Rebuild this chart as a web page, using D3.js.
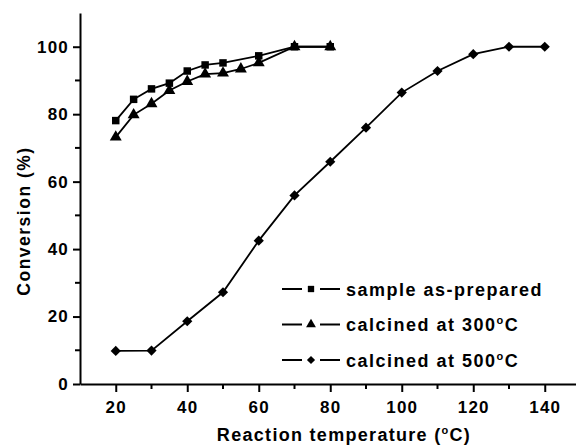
<!DOCTYPE html>
<html>
<head>
  <meta charset="utf-8">
  <title>Conversion vs temperature</title>
  <script src="https://cdn.jsdelivr.net/npm/d3@7"></script>
  <style>
    body { margin: 0; background: #fff; }
    text { font-family: "Liberation Sans", Arial, sans-serif; font-weight: bold; fill: #000; }
  </style>
</head>
<body>
  <svg width="576" height="445" id="mainsvg"></svg>
  <script>
    // data
    const tempA = [20, 25, 30, 35, 40, 45, 50, 60, 70, 80];
    const convA = [78.1, 84.4, 87.5, 89.2, 92.8, 94.6, 95.2, 97.3, 100, 100];
    const tempB = [20, 25, 30, 35, 40, 45, 50, 55, 60, 70, 80];
    const convB = [73.2, 79.8, 83.1, 87.0, 89.7, 91.9, 92.2, 93.4, 95.2, 100, 100];
    const tempC = [20, 30, 40, 50, 60, 70, 80, 90, 100, 110, 120, 130, 140];
    const convC = [9.8, 9.9, 18.6, 27.2, 42.5, 55.9, 65.9, 76.0, 86.4, 92.8, 97.8, 100, 100];
    const seriesNames = ['sample as-prepared', 'calcined at 300', 'calcined at 500'];
    const xTicks = [20, 40, 60, 80, 100, 120, 140];
    const yTicks = [0, 20, 40, 60, 80, 100];

    const svg = d3.select('#mainsvg');
    const x = d3.scaleLinear().domain([10, 150]).range([80, 580.5]);
    const y = d3.scaleLinear().domain([0, 110]).range([384, 13]);

    // axes: major ticks labelled, minor ticks between
    const xAxis = svg.append('g').attr('transform', 'translate(0,384)')
      .call(d3.axisBottom(x).tickValues(xTicks).tickSize(8).tickSizeOuter(0).tickPadding(9));
    xAxis.append('g').selectAll('line').data(d3.range(30, 150, 20)).join('line')
      .attr('x1', d => x(d)).attr('x2', d => x(d)).attr('y1', 0).attr('y2', 5);
    const yAxis = svg.append('g').attr('transform', 'translate(80,0)')
      .call(d3.axisLeft(y).tickValues(yTicks).tickSize(7).tickSizeOuter(0).tickPadding(4));
    yAxis.append('g').selectAll('line').data(d3.range(10, 110, 20)).join('line')
      .attr('x1', 0).attr('x2', -5).attr('y1', d => y(d)).attr('y2', d => y(d));
    svg.selectAll('.domain, .tick line, g line').attr('stroke', '#000').attr('stroke-width', 2);
    svg.selectAll('.tick text').attr('font-size', 17).attr('letter-spacing', 1.2)
      .attr('font-family', '"Liberation Sans", Arial, sans-serif').attr('font-weight', 'bold');

    // marker shapes
    const sym = {
      square: d3.symbol().type(d3.symbolSquare).size(56),
      triangle: d3.symbol().type(d3.symbolTriangle).size(62),
      diamond: d3.symbol().type(d3.symbolSquare).size(52)
    };
    const series = [
      { t: tempA, c: convA, shape: 'square' },
      { t: tempB, c: convB, shape: 'triangle' },
      { t: tempC, c: convC, shape: 'diamond' }
    ];
    const line = d3.line().x(d => x(d[0])).y(d => y(d[1]));

    series.forEach(s => {
      const pts = s.t.map((t, i) => [t, s.c[i]]);
      svg.append('path').datum(pts).attr('d', line)
        .attr('fill', 'none').attr('stroke', '#000').attr('stroke-width', 1.8);
      svg.append('g').selectAll('path').data(pts).join('path')
        .attr('d', sym[s.shape])
        .attr('transform', d => `translate(${x(d[0])},${y(d[1])})` + (s.shape === 'diamond' ? ' rotate(45)' : ''))
        .attr('fill', '#000');
    });

    // legend
    const legSym = {
      square: d3.symbol().type(d3.symbolSquare).size(40),
      triangle: d3.symbol().type(d3.symbolTriangle).size(42),
      diamond: d3.symbol().type(d3.symbolSquare).size(34)
    };
    series.forEach((s, i) => {
      const ly = 289 + i * 35.5;
      const lg = svg.append('g');
      lg.append('line').attr('x1', 282).attr('x2', 302).attr('y1', ly).attr('y2', ly).attr('stroke', '#000').attr('stroke-width', 2);
      lg.append('line').attr('x1', 320).attr('x2', 340).attr('y1', ly).attr('y2', ly).attr('stroke', '#000').attr('stroke-width', 2);
      lg.append('path').attr('d', legSym[s.shape])
        .attr('transform', `translate(311,${ly})` + (s.shape === 'diamond' ? ' rotate(45)' : ''));
      const tx = lg.append('text').attr('x', 346).attr('y', ly + 6.7).attr('font-size', 18)
        .attr('letter-spacing', 1.5).text(seriesNames[i]);
      if (i > 0) {
        tx.append('tspan').attr('font-size', 11).attr('dy', -7).text('o');
        tx.append('tspan').attr('dy', 7).text('C');
      }
    });

    // axis titles
    const xt = svg.append('text').attr('x', 344).attr('y', 441).attr('text-anchor', 'middle')
      .attr('font-size', 18).attr('letter-spacing', 1.3).text('Reaction temperature (');
    xt.append('tspan').attr('font-size', 11).attr('dy', -7).text('o');
    xt.append('tspan').attr('dy', 7).text('C)');

    svg.append('text').attr('transform', 'translate(30,221) rotate(-90)').attr('text-anchor', 'middle')
      .attr('font-size', 17.5).attr('letter-spacing', 1.5).text('Conversion (%)');
  </script>
</body>
</html>
